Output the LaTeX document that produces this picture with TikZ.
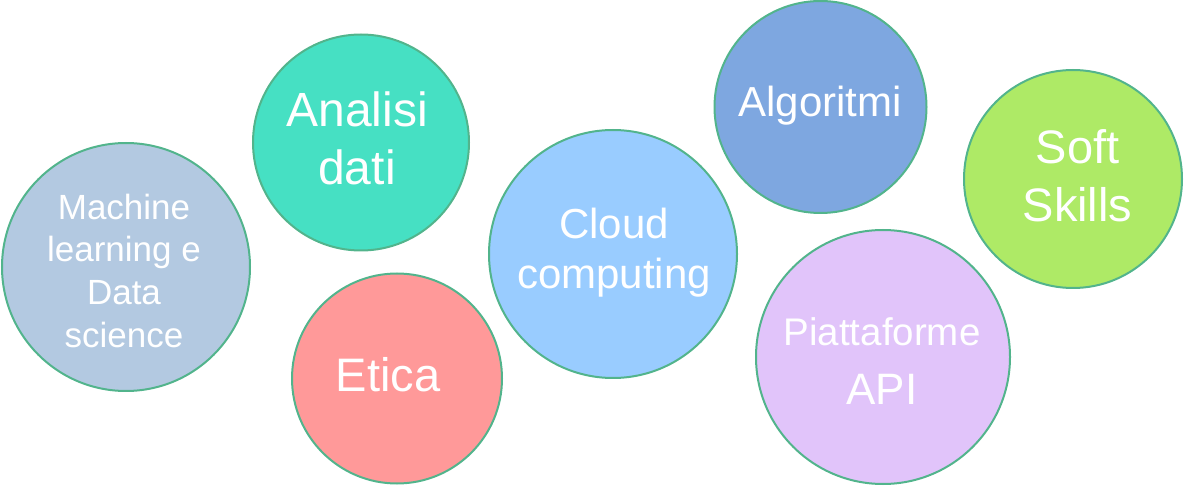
\documentclass[tikz,border=0pt]{standalone}
\usepackage{fontspec}
\setmainfont{Liberation Sans}
\definecolor{rim}{HTML}{52B48C}
\definecolor{cML}{HTML}{B3C9E1}
\definecolor{cAN}{HTML}{46E0C3}
\definecolor{cET}{HTML}{FF9999}
\definecolor{cCL}{HTML}{99CCFF}
\definecolor{cAL}{HTML}{7EA7E0}
\definecolor{cPI}{HTML}{E1C4FA}
\definecolor{cSS}{HTML}{AEEA66}
\tikzset{
  bubble/.style={circle, draw=rim, line width=2pt, inner sep=0pt},
  lbl/.style={text=white, anchor=base, inner sep=0pt},
}
\newcommand{\fs}[1]{\fontsize{#1}{#1}\selectfont}
\begin{document}
\begin{tikzpicture}[x=1pt,y=-1pt]
\useasboundingbox (0,0) rectangle (1184,486);
% circles
\node[bubble, fill=cML, minimum size=248pt] (ml) at (126,267) {};
\node[bubble, fill=cAN, minimum size=216pt] (an) at (361,142.5) {};
\node[bubble, fill=cET, minimum size=210pt] (et) at (397,378.5) {};
\node[bubble, fill=cCL, minimum size=248pt] (cl) at (613,254) {};
\node[bubble, fill=cAL, minimum size=212pt] (al) at (820.5,107) {};
\node[bubble, fill=cPI, minimum size=254pt] (pi) at (883,357) {};
\node[bubble, fill=cSS, minimum size=218pt] (ss) at (1073,179) {};
% labels
\node[lbl, font=\fs{35}] (ml1) at (124,220) {Machine};
\node[lbl, font=\fs{35}] (ml2) at (124,262) {learning e};
\node[lbl, font=\fs{35}] (ml3) at (124,305) {Data};
\node[lbl, font=\fs{35}] (ml4) at (124,348) {science};
\node[lbl, font=\fs{48}] (an1) at (357,127) {Analisi};
\node[lbl, font=\fs{48}] (an2) at (357,185) {dati};
\node[lbl, font=\fs{47}] (et1) at (388,391.5) {Etica};
\node[lbl, font=\fs{42}] (cl1) at (614,239) {Cloud};
\node[lbl, font=\fs{42}] (cl2) at (614,289) {computing};
\node[lbl, font=\fs{42}] (al1) at (820,117) {Algoritmi};
\node[lbl, font=\fs{38.5}] (pi1) at (882,345.5) {Piattaforme};
\node[lbl, font=\fs{44}] (pi2) at (882,404) {API};
\node[lbl, font=\fs{47}] (ss1) at (1077.5,164) {Soft};
\node[lbl, font=\fs{47}] (ss2) at (1077.5,222) {Skills};
\end{tikzpicture}
\end{document}
